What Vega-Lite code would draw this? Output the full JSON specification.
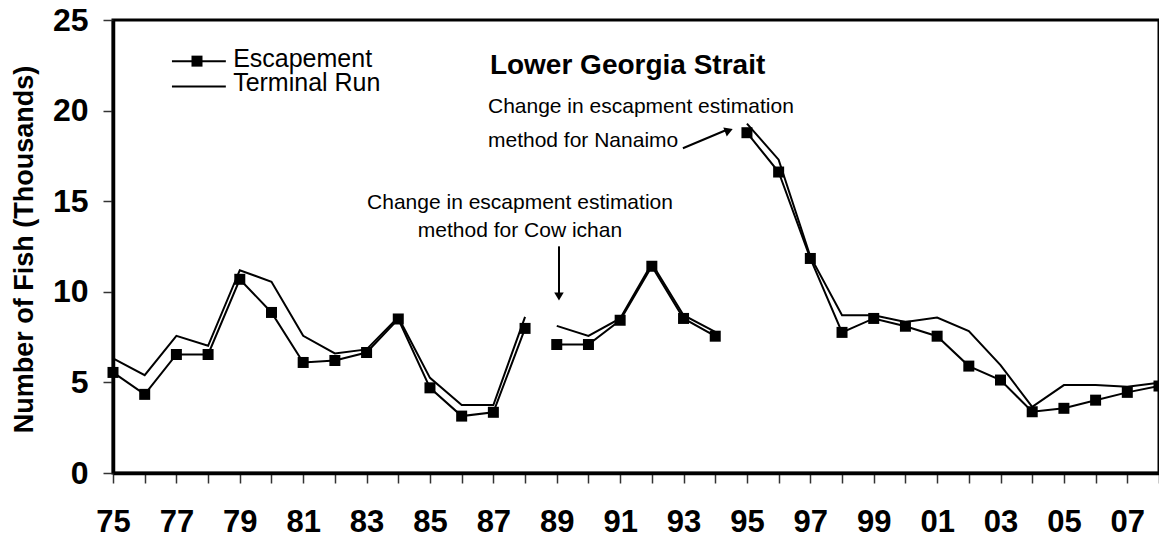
{
  "$schema": "https://vega.github.io/schema/vega-lite/v6.json",
  "width": 1046,
  "height": 453,
  "autosize": {"type": "none"},
  "padding": {"left": 113, "top": 20, "right": 0, "bottom": 64},
  "background": "white",
  "config": {
    "view": {"stroke": "black", "strokeWidth": 3},
    "font": "Liberation Sans",
    "axis": {"grid": false}
  },
  "datasets": {
    "fish": [
      {"year": 1975, "seg": 1, "series": "Escapement", "value": 5.55},
      {"year": 1976, "seg": 1, "series": "Escapement", "value": 4.34},
      {"year": 1977, "seg": 1, "series": "Escapement", "value": 6.54},
      {"year": 1978, "seg": 1, "series": "Escapement", "value": 6.54},
      {"year": 1979, "seg": 1, "series": "Escapement", "value": 10.69},
      {"year": 1980, "seg": 1, "series": "Escapement", "value": 8.86},
      {"year": 1981, "seg": 1, "series": "Escapement", "value": 6.10},
      {"year": 1982, "seg": 1, "series": "Escapement", "value": 6.21},
      {"year": 1983, "seg": 1, "series": "Escapement", "value": 6.65},
      {"year": 1984, "seg": 1, "series": "Escapement", "value": 8.50},
      {"year": 1985, "seg": 1, "series": "Escapement", "value": 4.70},
      {"year": 1986, "seg": 1, "series": "Escapement", "value": 3.14},
      {"year": 1987, "seg": 1, "series": "Escapement", "value": 3.35},
      {"year": 1988, "seg": 1, "series": "Escapement", "value": 7.98},
      {"year": 1989, "seg": 2, "series": "Escapement", "value": 7.09},
      {"year": 1990, "seg": 2, "series": "Escapement", "value": 7.09},
      {"year": 1991, "seg": 2, "series": "Escapement", "value": 8.43},
      {"year": 1992, "seg": 2, "series": "Escapement", "value": 11.41},
      {"year": 1993, "seg": 2, "series": "Escapement", "value": 8.53},
      {"year": 1994, "seg": 2, "series": "Escapement", "value": 7.55},
      {"year": 1995, "seg": 3, "series": "Escapement", "value": 18.78},
      {"year": 1996, "seg": 3, "series": "Escapement", "value": 16.61},
      {"year": 1997, "seg": 3, "series": "Escapement", "value": 11.84},
      {"year": 1998, "seg": 3, "series": "Escapement", "value": 7.76},
      {"year": 1999, "seg": 3, "series": "Escapement", "value": 8.53},
      {"year": 2000, "seg": 3, "series": "Escapement", "value": 8.10},
      {"year": 2001, "seg": 3, "series": "Escapement", "value": 7.55},
      {"year": 2002, "seg": 3, "series": "Escapement", "value": 5.90},
      {"year": 2003, "seg": 3, "series": "Escapement", "value": 5.13},
      {"year": 2004, "seg": 3, "series": "Escapement", "value": 3.38},
      {"year": 2005, "seg": 3, "series": "Escapement", "value": 3.57},
      {"year": 2006, "seg": 3, "series": "Escapement", "value": 4.02},
      {"year": 2007, "seg": 3, "series": "Escapement", "value": 4.45},
      {"year": 2008, "seg": 3, "series": "Escapement", "value": 4.80},
      {"year": 1975, "seg": 1, "series": "Terminal Run", "value": 6.32},
      {"year": 1976, "seg": 1, "series": "Terminal Run", "value": 5.40},
      {"year": 1977, "seg": 1, "series": "Terminal Run", "value": 7.57},
      {"year": 1978, "seg": 1, "series": "Terminal Run", "value": 7.02},
      {"year": 1979, "seg": 1, "series": "Terminal Run", "value": 11.19},
      {"year": 1980, "seg": 1, "series": "Terminal Run", "value": 10.55},
      {"year": 1981, "seg": 1, "series": "Terminal Run", "value": 7.57},
      {"year": 1982, "seg": 1, "series": "Terminal Run", "value": 6.60},
      {"year": 1983, "seg": 1, "series": "Terminal Run", "value": 6.82},
      {"year": 1984, "seg": 1, "series": "Terminal Run", "value": 8.60},
      {"year": 1985, "seg": 1, "series": "Terminal Run", "value": 5.25},
      {"year": 1986, "seg": 1, "series": "Terminal Run", "value": 3.75},
      {"year": 1987, "seg": 1, "series": "Terminal Run", "value": 3.75},
      {"year": 1988, "seg": 1, "series": "Terminal Run", "value": 8.62},
      {"year": 1989, "seg": 2, "series": "Terminal Run", "value": 8.12},
      {"year": 1990, "seg": 2, "series": "Terminal Run", "value": 7.57},
      {"year": 1991, "seg": 2, "series": "Terminal Run", "value": 8.53},
      {"year": 1992, "seg": 2, "series": "Terminal Run", "value": 11.56},
      {"year": 1993, "seg": 2, "series": "Terminal Run", "value": 8.71},
      {"year": 1994, "seg": 2, "series": "Terminal Run", "value": 7.79},
      {"year": 1995, "seg": 3, "series": "Terminal Run", "value": 19.28},
      {"year": 1996, "seg": 3, "series": "Terminal Run", "value": 17.29},
      {"year": 1997, "seg": 3, "series": "Terminal Run", "value": 11.95},
      {"year": 1998, "seg": 3, "series": "Terminal Run", "value": 8.71},
      {"year": 1999, "seg": 3, "series": "Terminal Run", "value": 8.71},
      {"year": 2000, "seg": 3, "series": "Terminal Run", "value": 8.34},
      {"year": 2001, "seg": 3, "series": "Terminal Run", "value": 8.58},
      {"year": 2002, "seg": 3, "series": "Terminal Run", "value": 7.83},
      {"year": 2003, "seg": 3, "series": "Terminal Run", "value": 5.95},
      {"year": 2004, "seg": 3, "series": "Terminal Run", "value": 3.65},
      {"year": 2005, "seg": 3, "series": "Terminal Run", "value": 4.85},
      {"year": 2006, "seg": 3, "series": "Terminal Run", "value": 4.85},
      {"year": 2007, "seg": 3, "series": "Terminal Run", "value": 4.76},
      {"year": 2008, "seg": 3, "series": "Terminal Run", "value": 4.98}
    ],
    "legendLines": [
      {"year": 1976.86, "year2": 1978.56, "value": 22.73},
      {"year": 1976.86, "year2": 1978.56, "value": 21.33}
    ],
    "legendMarks": [
      {"year": 1977.65, "value": 22.73}
    ],
    "labels": [
      {"group": "legend", "year": 1978.79, "value": 22.38, "text": "Escapement"},
      {"group": "legend", "year": 1978.79, "value": 21.08, "text": "Terminal Run"},
      {"group": "title", "year": 1986.89, "value": 22.03, "text": "Lower Georgia Strait"},
      {"group": "nanaimo", "year": 1986.83, "value": 19.85, "text": "Change in escapment estimation"},
      {"group": "nanaimo", "year": 1986.83, "value": 18.01, "text": "method for Nanaimo"},
      {"group": "cowichan", "year": 1987.84, "value": 14.57, "text": "Change in escapment estimation"},
      {"group": "cowichan", "year": 1987.84, "value": 13.05, "text": "method for Cow ichan"}
    ],
    "arrowLines": [
      {"year": 1989.07, "year2": 1989.07, "value": 12.51, "value2": 9.9},
      {"year": 1992.98, "year2": 1994.35, "value": 17.92, "value2": 18.93}
    ],
    "arrowHeads": [
      {"year": 1989.07, "value": 9.74, "shape": "triangle-down", "angle": 0},
      {"year": 1994.43, "value": 18.90, "shape": "triangle-right", "angle": 339}
    ]
  },
  "encoding": {
    "x": {
      "field": "year", "type": "quantitative",
      "scale": {"domain": [1975, 2008], "nice": false, "zero": false},
      "axis": {
        "title": null,
        "values": [1975,1976,1977,1978,1979,1980,1981,1982,1983,1984,1985,1986,1987,1988,1989,1990,1991,1992,1993,1994,1995,1996,1997,1998,1999,2000,2001,2002,2003,2004,2005,2006,2007,2008],
        "labelExpr": "datum.value % 2 == 1 ? substring(toString(datum.value), 2, 4) : ''",
        "labelFlush": false,
        "labelOverlap": false,
        "labelFont": "Liberation Sans",
        "labelFontSize": 31,
        "labelFontWeight": "bold",
        "labelColor": "black",
        "labelPadding": 24,
        "tickSize": 10,
        "tickWidth": 1.5,
        "tickColor": "#333",
        "domainColor": "black",
        "domainWidth": 3.5,
        "grid": false
      }
    },
    "y": {
      "field": "value", "type": "quantitative",
      "scale": {"domain": [0, 25], "nice": false, "zero": false},
      "axis": {
        "title": "Number of Fish (Thousands)",
        "values": [0, 5, 10, 15, 20, 25],
        "labelFont": "Liberation Sans",
        "labelFontSize": 32,
        "labelFontWeight": "bold",
        "labelColor": "black",
        "labelPadding": 15,
        "tickSize": 10,
        "tickWidth": 1.5,
        "tickColor": "#333",
        "domainColor": "black",
        "domainWidth": 3.5,
        "grid": false,
        "titleFont": "Liberation Sans",
        "titleFontSize": 27,
        "titleFontWeight": "bold",
        "titleColor": "black",
        "titleAngle": 270,
        "titleAlign": "center",
        "titleBaseline": "alphabetic",
        "titleX": -81,
        "titleY": 229
      }
    }
  },
  "layer": [
    {
      "data": {"name": "fish"},
      "transform": [{"filter": "datum.series == 'Terminal Run'"}],
      "mark": {"type": "line", "color": "black", "strokeWidth": 2},
      "encoding": {"detail": {"field": "seg", "type": "nominal"}}
    },
    {
      "data": {"name": "fish"},
      "transform": [{"filter": "datum.series == 'Escapement'"}],
      "mark": {"type": "line", "color": "black", "strokeWidth": 2},
      "encoding": {"detail": {"field": "seg", "type": "nominal"}}
    },
    {
      "data": {"name": "fish"},
      "transform": [{"filter": "datum.series == 'Escapement'"}],
      "mark": {"type": "point", "shape": "square", "filled": true, "color": "black", "opacity": 1, "size": 121}
    },
    {
      "data": {"name": "legendLines"},
      "mark": {"type": "rule", "color": "black", "strokeWidth": 2},
      "encoding": {"x2": {"field": "year2"}}
    },
    {
      "data": {"name": "legendMarks"},
      "mark": {"type": "point", "shape": "square", "filled": true, "color": "black", "opacity": 1, "size": 121}
    },
    {
      "data": {"name": "arrowLines"},
      "mark": {"type": "rule", "color": "black", "strokeWidth": 2},
      "encoding": {"x2": {"field": "year2"}, "y2": {"field": "value2"}}
    },
    {
      "data": {"name": "arrowHeads"},
      "mark": {"type": "point", "filled": true, "color": "black", "opacity": 1, "size": 90},
      "encoding": {
        "shape": {"field": "shape", "type": "nominal", "scale": null, "legend": null},
        "angle": {"field": "angle", "type": "quantitative", "scale": null}
      }
    },
    {
      "data": {"name": "labels"},
      "transform": [{"filter": "datum.group == 'legend'"}],
      "mark": {"type": "text", "baseline": "alphabetic", "align": "left", "color": "black", "font": "Liberation Sans", "fontSize": 25},
      "encoding": {"text": {"field": "text"}}
    },
    {
      "data": {"name": "labels"},
      "transform": [{"filter": "datum.group == 'title'"}],
      "mark": {"type": "text", "baseline": "alphabetic", "align": "left", "color": "black", "font": "Liberation Sans", "fontSize": 28, "fontWeight": "bold"},
      "encoding": {"text": {"field": "text"}}
    },
    {
      "data": {"name": "labels"},
      "transform": [{"filter": "datum.group == 'nanaimo'"}],
      "mark": {"type": "text", "baseline": "alphabetic", "align": "left", "color": "black", "font": "Liberation Sans", "fontSize": 21},
      "encoding": {"text": {"field": "text"}}
    },
    {
      "data": {"name": "labels"},
      "transform": [{"filter": "datum.group == 'cowichan'"}],
      "mark": {"type": "text", "baseline": "alphabetic", "align": "center", "color": "black", "font": "Liberation Sans", "fontSize": 21},
      "encoding": {"text": {"field": "text"}}
    }
  ]
}
